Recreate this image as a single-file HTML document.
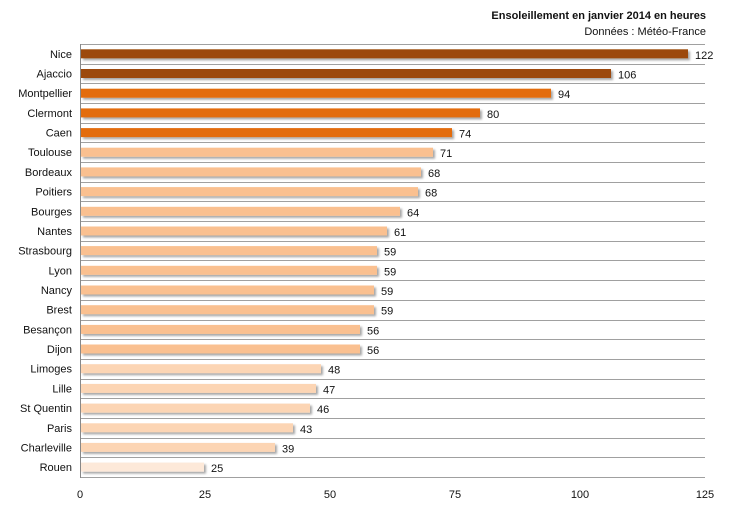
<!DOCTYPE html>
<html><head><meta charset="utf-8"><style>
body{margin:0;background:#fff;}
svg text{font-family:"Liberation Sans",sans-serif;font-size:11px;fill:#111;}
.l{text-anchor:end}
</style></head><body>
<svg width="729" height="505" viewBox="0 0 729 505" xmlns="http://www.w3.org/2000/svg">
<defs><filter id="sh" x="-5%" y="-50%" width="110%" height="250%"><feDropShadow dx="2" dy="2" stdDeviation="1" flood-color="#000" flood-opacity="0.35"/></filter></defs>
<text x="706" y="19" text-anchor="end" style="font-weight:bold">Ensoleillement en janvier 2014 en heures</text>
<text x="706" y="35" text-anchor="end">Données : Météo-France</text>
<path stroke="#a0a0a0" stroke-width="1" fill="none" d="M80 44.5H705M80 64.5H705M80 83.5H705M80 103.5H705M80 123.5H705M80 142.5H705M80 162.5H705M80 182.5H705M80 201.5H705M80 221.5H705M80 241.5H705M80 260.5H705M80 280.5H705M80 300.5H705M80 320.5H705M80 339.5H705M80 359.5H705M80 379.5H705M80 398.5H705M80 418.5H705M80 438.5H705M80 457.5H705M80 477.5H705"/>
<line x1="80.5" x2="80.5" y1="44" y2="478" stroke="#888"/>
<g filter="url(#sh)">
<rect x="81" y="49.3" width="607" height="9" fill="#9C4A0A"/>
<rect x="81" y="69.0" width="530" height="9" fill="#9C4A0A"/>
<rect x="81" y="88.7" width="470" height="9" fill="#E36C0A"/>
<rect x="81" y="108.4" width="399" height="9" fill="#E36C0A"/>
<rect x="81" y="128.1" width="371" height="9" fill="#E36C0A"/>
<rect x="81" y="147.7" width="352" height="9" fill="#FAC090"/>
<rect x="81" y="167.4" width="340" height="9" fill="#FAC090"/>
<rect x="81" y="187.1" width="337" height="9" fill="#FAC090"/>
<rect x="81" y="206.8" width="319" height="9" fill="#FAC090"/>
<rect x="81" y="226.5" width="306" height="9" fill="#FAC090"/>
<rect x="81" y="246.1" width="296" height="9" fill="#FAC090"/>
<rect x="81" y="265.8" width="296" height="9" fill="#FAC090"/>
<rect x="81" y="285.5" width="293" height="9" fill="#FAC090"/>
<rect x="81" y="305.2" width="293" height="9" fill="#FAC090"/>
<rect x="81" y="324.9" width="279" height="9" fill="#FAC090"/>
<rect x="81" y="344.5" width="279" height="9" fill="#FAC090"/>
<rect x="81" y="364.2" width="240" height="9" fill="#FCD5B4"/>
<rect x="81" y="383.9" width="235" height="9" fill="#FCD5B4"/>
<rect x="81" y="403.6" width="229" height="9" fill="#FCD5B4"/>
<rect x="81" y="423.3" width="212" height="9" fill="#FCD5B4"/>
<rect x="81" y="442.9" width="194" height="9" fill="#FCD5B4"/>
<rect x="81" y="462.6" width="123" height="9" fill="#FDE9D9"/>
</g>
<text class="l" x="72" y="57.8">Nice</text><text x="695" y="58.8">122</text>
<text class="l" x="72" y="77.5">Ajaccio</text><text x="618" y="78.5">106</text>
<text class="l" x="72" y="97.2">Montpellier</text><text x="558" y="98.2">94</text>
<text class="l" x="72" y="116.9">Clermont</text><text x="487" y="117.9">80</text>
<text class="l" x="72" y="136.6">Caen</text><text x="459" y="137.6">74</text>
<text class="l" x="72" y="156.2">Toulouse</text><text x="440" y="157.2">71</text>
<text class="l" x="72" y="175.9">Bordeaux</text><text x="428" y="176.9">68</text>
<text class="l" x="72" y="195.6">Poitiers</text><text x="425" y="196.6">68</text>
<text class="l" x="72" y="215.3">Bourges</text><text x="407" y="216.3">64</text>
<text class="l" x="72" y="235.0">Nantes</text><text x="394" y="236.0">61</text>
<text class="l" x="72" y="254.6">Strasbourg</text><text x="384" y="255.6">59</text>
<text class="l" x="72" y="274.3">Lyon</text><text x="384" y="275.3">59</text>
<text class="l" x="72" y="294.0">Nancy</text><text x="381" y="295.0">59</text>
<text class="l" x="72" y="313.7">Brest</text><text x="381" y="314.7">59</text>
<text class="l" x="72" y="333.4">Besançon</text><text x="367" y="334.4">56</text>
<text class="l" x="72" y="353.0">Dijon</text><text x="367" y="354.0">56</text>
<text class="l" x="72" y="372.7">Limoges</text><text x="328" y="373.7">48</text>
<text class="l" x="72" y="392.4">Lille</text><text x="323" y="393.4">47</text>
<text class="l" x="72" y="412.1">St Quentin</text><text x="317" y="413.1">46</text>
<text class="l" x="72" y="431.8">Paris</text><text x="300" y="432.8">43</text>
<text class="l" x="72" y="451.4">Charleville</text><text x="282" y="452.4">39</text>
<text class="l" x="72" y="471.1">Rouen</text><text x="211" y="472.1">25</text>
<g text-anchor="middle">
<text x="80" y="498">0</text><text x="205" y="498">25</text><text x="330" y="498">50</text><text x="455" y="498">75</text><text x="580" y="498">100</text><text x="705" y="498">125</text>
</g>
</svg>
</body></html>
